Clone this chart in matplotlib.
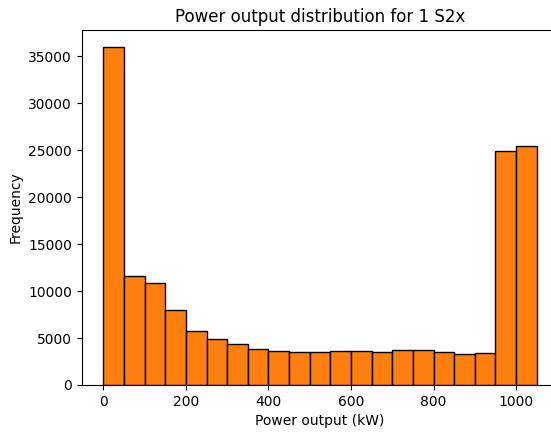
import numpy as np
import matplotlib
matplotlib.use('Agg')
import matplotlib.pyplot as plt

# histogram of power output, 50 kW bins
bin_edges = np.arange(0, 1051, 50)
counts = [36000, 11650, 10850, 7960, 5800, 4870, 4370, 3800, 3590, 3480,
          3550, 3660, 3660, 3560, 3770, 3770, 3560, 3280, 3380, 24870, 25500]

fig = plt.figure(figsize=(5.51, 4.32), dpi=100)
# axes run slightly past the right edge of the canvas
ax = fig.add_axes([0.1483, 0.1088, 0.865, 0.8218])
ax.hist(bin_edges[:-1], bins=bin_edges, weights=counts,
        color='tab:orange', edgecolor='black')
ax.set_title('Power output distribution for 1 S2x')
ax.set_xlabel('Power output (kW)')
ax.set_ylabel('Frequency')
fig.savefig('out.png', dpi=100)
